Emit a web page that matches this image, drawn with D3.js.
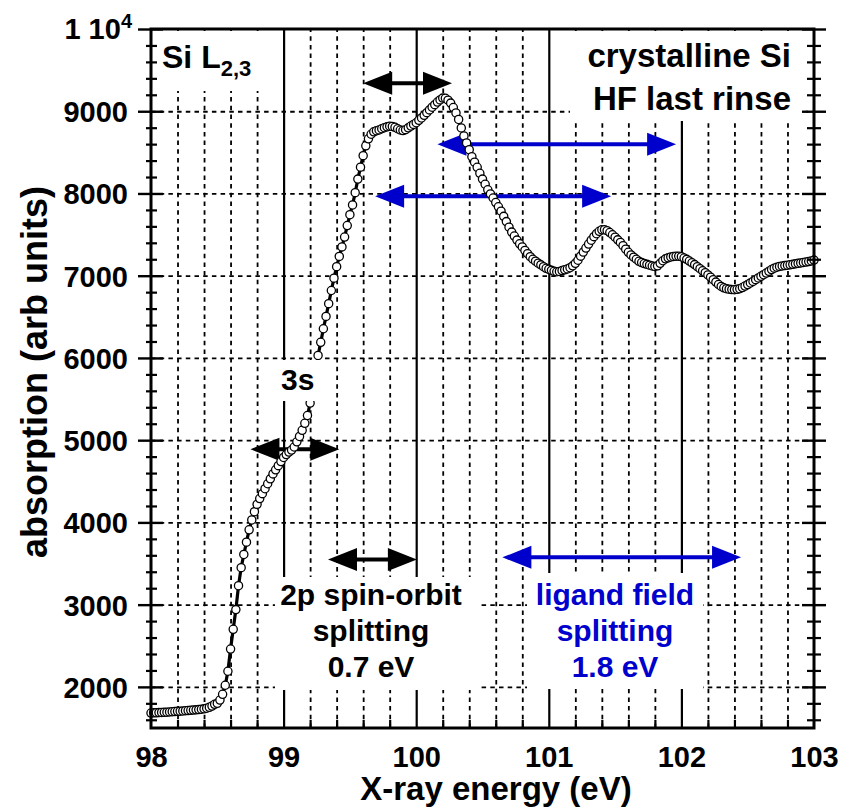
<!DOCTYPE html>
<html>
<head>
<meta charset="utf-8">
<script src="https://cdn.jsdelivr.net/npm/d3@7"></script>
<style>
  html, body { margin: 0; padding: 0; background: #fff; }
  svg { display: block; }
</style>
</head>
<body>
<svg id="chart" width="841" height="812"></svg>
<script>
// Si L2,3 absorption edge of crystalline Si (HF last rinse), sampled every 0.02 eV from 98 eV
const energyStart = 98;
const energyStep = 0.02;
const absorption = [
  1682, 1684, 1685, 1687, 1689, 1691, 1693, 1696, 1698, 1700,
  1703, 1705, 1707, 1710, 1712, 1715, 1718, 1721, 1724, 1728,
  1733, 1741, 1752, 1767, 1788, 1800, 1840, 1910, 2020, 2190,
  2460, 2700, 2940, 3230, 3450, 3610, 3760, 3910, 4030, 4130,
  4220, 4290, 4350, 4410, 4470, 4530, 4590, 4640, 4690, 4740,
  4790, 4825, 4855, 4880, 4917, 4980, 5045, 5120, 5205, 5300,
  5451, 5640, 5830, 6030, 6190, 6355, 6505, 6660, 6820, 6970,
  7110, 7235, 7350, 7470, 7610, 7742, 7860, 8010, 8175, 8320,
  8460, 8580, 8665, 8720, 8750, 8763, 8773, 8787, 8800, 8810,
  8818, 8815, 8805, 8787, 8772, 8765, 8776, 8798, 8820, 8840,
  8860, 8890, 8918, 8950, 8983, 9016, 9049, 9080, 9112, 9138,
  9160, 9158, 9135, 9099, 9045, 8980, 8900, 8797, 8700, 8615,
  8532, 8448, 8380, 8318, 8245, 8175, 8112, 8045, 7995, 7945,
  7890, 7838, 7785, 7722, 7658, 7590, 7530, 7482, 7433, 7388,
  7350, 7308, 7268, 7232, 7200, 7176, 7152, 7132, 7110, 7090,
  7078, 7065, 7054, 7048, 7052, 7062, 7072, 7083, 7097, 7120,
  7150, 7188, 7238, 7287, 7336, 7385, 7432, 7475, 7511, 7540,
  7558, 7560, 7548, 7525, 7498, 7468, 7436, 7405, 7365, 7322,
  7285, 7252, 7225, 7200, 7175, 7160, 7148, 7138, 7128, 7118,
  7113, 7120, 7150, 7182, 7205, 7218, 7228, 7235, 7238, 7237,
  7232, 7215, 7199, 7178, 7157, 7135, 7110, 7085, 7060, 7037,
  7010, 6982, 6952, 6922, 6893, 6870, 6853, 6842, 6836, 6831,
  6830, 6835, 6842, 6856, 6874, 6892, 6912, 6931, 6952, 6973,
  6993, 7012, 7032, 7053, 7075, 7092, 7104, 7113, 7118, 7123,
  7128, 7133, 7138, 7144, 7150, 7156, 7161, 7166, 7172, 7180,
  7190
];

// Axis ticks
const xTickValues = [98, 99, 100, 101, 102, 103];
const xTickLabels = ["98", "99", "100", "101", "102", "103"];
const yTickValues = [2000, 3000, 4000, 5000, 6000, 7000, 8000, 9000];
const yTickLabels = ["2000", "3000", "4000", "5000", "6000", "7000", "8000", "9000"];
const yTopValue = 10000;
const yTopMantissa = "1 10";
const yTopExponent = "4";

// Splitting markers: energy span (eV) and the absorption level they sit at
const spinOrbitFrom = [99.60, 98.75, 99.335];
const spinOrbitTo = [100.27, 99.42, 100.005];
const spinOrbitLevel = [9340, 4890, 3550];
const ligandFrom = [100.16, 99.69, 100.65];
const ligandTo = [101.96, 101.47, 102.45];
const ligandLevel = [8600, 7965, 3575];

const FONT = "'Liberation Sans', Arial, Helvetica, sans-serif";
const BLUE = "#0000cc";

const plot = { left: 151, right: 814, top: 29, bottom: 728 };
const x = d3.scaleLinear().domain([98, 103]).range([plot.left, plot.right]);
const y = d3.scaleLinear().domain([1500, 10000]).range([plot.bottom, plot.top]);
const svg = d3.select("#chart");

const points = absorption.map((v, i) => ({ e: energyStart + i * energyStep, v }));

// ---------- gridlines ----------
const minorX = d3.range(1, 25).map(i => 98 + i * 0.2)
  .filter(v => Math.abs(v - Math.round(v)) > 1e-6);
const innerX = xTickValues.filter(v => v > 98 && v < 103);
const plotH = plot.bottom - plot.top;
const plotW = plot.right - plot.left;
const DASH = "4.5,4.2";

const grid = svg.append("g");
grid.append("g")
  .attr("transform", `translate(0,${plot.bottom})`)
  .call(d3.axisBottom(x).tickValues(minorX).tickSize(-plotH).tickFormat(""))
  .call(g => g.select(".domain").remove())
  .selectAll("line")
  .attr("stroke", "#000").attr("stroke-width", 1.8).attr("stroke-dasharray", DASH);
grid.append("g")
  .attr("transform", `translate(0,${plot.bottom})`)
  .call(d3.axisBottom(x).tickValues(innerX).tickSize(-plotH).tickFormat(""))
  .call(g => g.select(".domain").remove())
  .selectAll("line")
  .attr("stroke", "#000").attr("stroke-width", 2.2);
grid.append("g")
  .attr("transform", `translate(${plot.left},0)`)
  .call(d3.axisLeft(y).tickValues(yTickValues).tickSize(-plotW).tickFormat(""))
  .call(g => g.select(".domain").remove())
  .selectAll("line")
  .attr("stroke", "#000").attr("stroke-width", 1.8).attr("stroke-dasharray", DASH);

// ---------- splitting arrows ----------
function arrow(g, e1, e2, level, color) {
  const x1 = x(e1), x2 = x(e2), yy = y(level);
  const headL = 29, headH = 11.5;
  g.append("line")
    .attr("x1", x1 + headL - 2).attr("x2", x2 - headL + 2)
    .attr("y1", yy).attr("y2", yy)
    .attr("stroke", color).attr("stroke-width", 4);
  g.append("path")
    .attr("d", `M${x1},${yy} L${x1 + headL},${yy - headH} L${x1 + headL},${yy + headH} Z`)
    .attr("fill", color);
  g.append("path")
    .attr("d", `M${x2},${yy} L${x2 - headL},${yy - headH} L${x2 - headL},${yy + headH} Z`)
    .attr("fill", color);
}
const arrows = svg.append("g");
spinOrbitFrom.forEach((f, i) => arrow(arrows, f, spinOrbitTo[i], spinOrbitLevel[i], "#000"));
ligandFrom.forEach((f, i) => arrow(arrows, f, ligandTo[i], ligandLevel[i], BLUE));

// ---------- absorption curve ----------
const curve = svg.append("g");
curve.append("path")
  .datum(points)
  .attr("d", d3.line().x(d => x(d.e)).y(d => y(d.v)))
  .attr("fill", "none").attr("stroke", "#000").attr("stroke-width", 3.2);
curve.selectAll("circle")
  .data(points)
  .join("circle")
  .attr("cx", d => x(d.e)).attr("cy", d => y(d.v))
  .attr("r", 4.1)
  .attr("fill", "#fff").attr("stroke", "#000").attr("stroke-width", 1.3);

// ---------- annotation labels on white backgrounds ----------
const notes = svg.append("g").attr("font-family", FONT).attr("font-weight", "bold");
function box(x0, y0, x1, y1) {
  notes.append("rect").attr("x", x0).attr("y", y0)
    .attr("width", x1 - x0).attr("height", y1 - y0).attr("fill", "#fff");
}
box(153, 31, 270, 91);
box(570, 31, 806, 121);
box(268, 360, 322, 401);
box(275, 577, 478, 690);
box(527, 573, 703, 689);

const siLabel = notes.append("text").attr("x", 162).attr("y", 68).attr("font-size", 32);
siLabel.append("tspan").text("Si L");
siLabel.append("tspan").attr("font-size", 22).attr("dy", 8).text("2,3");

notes.append("text").attr("x", 791).attr("y", 67).attr("font-size", 33)
  .attr("text-anchor", "end").text("crystalline Si");
notes.append("text").attr("x", 791).attr("y", 110).attr("font-size", 33)
  .attr("text-anchor", "end").text("HF last rinse");

notes.append("text").attr("x", 281).attr("y", 390).attr("font-size", 30).text("3s");

const soLines = ["2p spin-orbit", "splitting", "0.7 eV"];
const lfLines = ["ligand field", "splitting", "1.8 eV"];
const lineBase = [605, 641, 677];
soLines.forEach((t, i) => notes.append("text").attr("x", 371).attr("y", lineBase[i])
  .attr("font-size", 30).attr("text-anchor", "middle").text(t));
lfLines.forEach((t, i) => notes.append("text").attr("x", 615).attr("y", lineBase[i])
  .attr("font-size", 30).attr("text-anchor", "middle").attr("fill", BLUE).text(t));

// ---------- frame and ticks ----------
const axes = svg.append("g");
const minorY = d3.range(1600, 10000, 200).filter(v => v % 1000 !== 0);
const majorY = yTickValues.concat([yTopValue]);

function tickGroup(axisFn, tx, ty, width) {
  axes.append("g").attr("transform", `translate(${tx},${ty})`)
    .call(axisFn)
    .call(g => g.select(".domain").remove())
    .call(g => g.selectAll("text").remove())
    .selectAll("line").attr("stroke", "#000").attr("stroke-width", width);
}
// left axis: major ticks cross the axis, minor ticks are short
tickGroup(d3.axisLeft(y).tickValues(majorY).tickSize(13), plot.left, 0, 2.4);
tickGroup(d3.axisRight(y).tickValues(majorY).tickSize(12), plot.left, 0, 2.4);
tickGroup(d3.axisLeft(y).tickValues(minorY).tickSize(5), plot.left, 0, 2.2);
tickGroup(d3.axisRight(y).tickValues(minorY).tickSize(6), plot.left, 0, 2.2);
// right axis mirrors the left
tickGroup(d3.axisRight(y).tickValues(majorY).tickSize(12), plot.right, 0, 2.4);
tickGroup(d3.axisLeft(y).tickValues(majorY).tickSize(12), plot.right, 0, 2.4);
tickGroup(d3.axisRight(y).tickValues(minorY).tickSize(7), plot.right, 0, 2.2);
tickGroup(d3.axisLeft(y).tickValues(minorY).tickSize(7), plot.right, 0, 2.2);
// bottom minor ticks point inward
tickGroup(d3.axisTop(x).tickValues(minorX).tickSize(8), 0, plot.bottom, 2.2);

axes.append("rect")
  .attr("x", plot.left).attr("y", plot.top)
  .attr("width", plotW).attr("height", plotH)
  .attr("fill", "none").attr("stroke", "#000").attr("stroke-width", 3);

// tick labels
const labels = svg.append("g").attr("font-family", FONT).attr("font-weight", "bold").attr("fill", "#000");
labels.append("g")
  .attr("transform", `translate(${plot.left},0)`)
  .call(d3.axisLeft(y).tickValues(yTickValues).tickSize(13).tickPadding(10)
    .tickFormat((d, i) => yTickLabels[i]))
  .call(g => g.select(".domain").remove())
  .call(g => g.selectAll("line").remove())
  .selectAll("text")
  .attr("font-family", FONT).attr("font-weight", "bold").attr("font-size", 29)
  .attr("dy", "0.36em").attr("fill", "#000");

const topLabel = labels.append("text")
  .attr("x", 132).attr("y", y(yTopValue) + 10)
  .attr("text-anchor", "end").attr("font-size", 29);
topLabel.append("tspan").text(yTopMantissa);
topLabel.append("tspan").attr("font-size", 20).attr("dy", -11).text(yTopExponent);

labels.append("g")
  .attr("transform", `translate(0,${plot.bottom})`)
  .call(d3.axisBottom(x).tickValues(xTickValues).tickSize(0).tickPadding(18)
    .tickFormat((d, i) => xTickLabels[i]))
  .call(g => g.select(".domain").remove())
  .selectAll("text")
  .attr("font-family", FONT).attr("font-weight", "bold").attr("font-size", 29)
  .attr("fill", "#000");

// axis titles
labels.append("text")
  .attr("x", 496).attr("y", 800)
  .attr("text-anchor", "middle").attr("font-size", 33)
  .text("X-ray energy (eV)");
labels.append("text")
  .attr("transform", "translate(47,372) rotate(-90)")
  .attr("text-anchor", "middle").attr("font-size", 36)
  .text("absorption (arb units)");
</script>
</body>
</html>
